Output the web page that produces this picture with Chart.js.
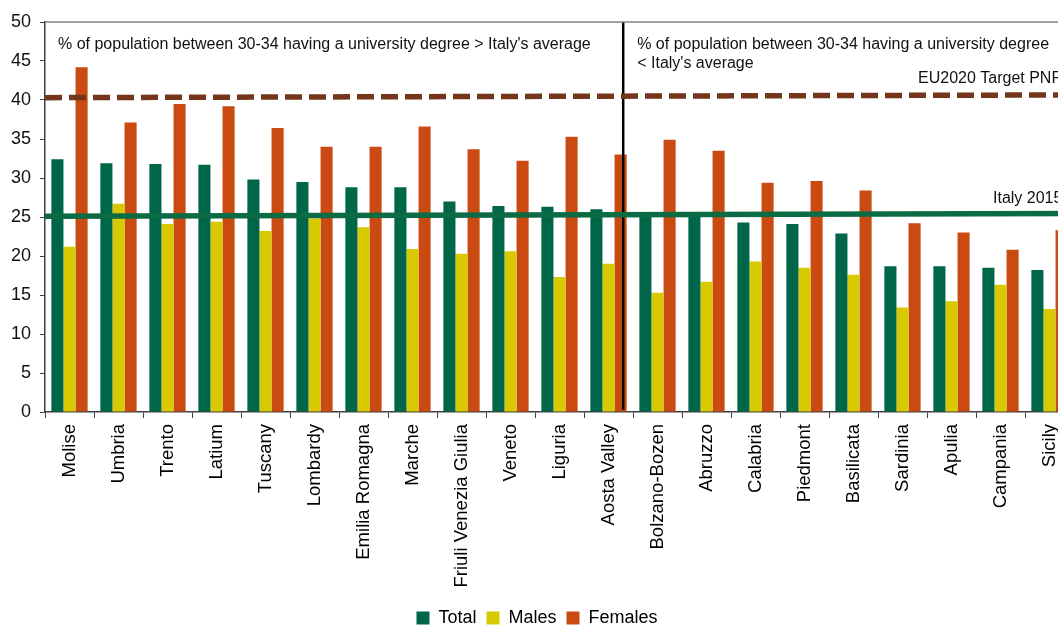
<!DOCTYPE html>
<html>
<head>
<meta charset="utf-8">
<script src="https://cdn.jsdelivr.net/npm/chart.js@4/dist/chart.umd.min.js"></script>
<style>
  html, body { margin: 0; padding: 0; overflow: hidden; background: #fff; }
  #wrap { position: relative; width: 1080px; height: 628px; }
</style>
</head>
<body>
<div id="wrap"><canvas id="c"></canvas></div>
<script>
// Share of population aged 30-34 with a university degree, by region (%)
const regions = ['Molise', 'Umbria', 'Trento', 'Latium', 'Tuscany', 'Lombardy', 'Emilia Romagna',
  'Marche', 'Friuli Venezia Giulia', 'Veneto', 'Liguria', 'Aosta Valley', 'Bolzano-Bozen',
  'Abruzzo', 'Calabria', 'Piedmont', 'Basilicata', 'Sardinia', 'Apulia', 'Campania', 'Sicily'];
const totalPct   = [32.4, 31.9, 31.8, 31.7, 29.8, 29.5, 28.8, 28.8, 27.0, 26.4, 26.3, 26.0, 25.2, 25.1, 24.3, 24.1, 22.9, 18.7, 18.7, 18.5, 18.2];
const malesPct   = [21.2, 26.7, 24.1, 24.4, 23.2, 24.8, 23.7, 20.9, 20.3, 20.6, 17.3, 19.0, 15.3, 16.7, 19.3, 18.5, 17.6, 13.4, 14.2, 16.3, 13.2];
const femalesPct = [44.2, 37.1, 39.5, 39.2, 36.4, 34.0, 34.0, 36.6, 33.7, 32.2, 35.3, 33.0, 34.9, 33.5, 29.4, 29.6, 28.4, 24.2, 23.0, 20.8, 23.3];
const yTicks = [0, 5, 10, 15, 20, 25, 30, 35, 40, 45, 50];

// Reference lines (value at the left edge, value at the right edge)
const euTarget  = [40.3, 40.65];
const italy2015 = [25.1, 25.45];
// Divider between the above-average and below-average groups, in region-index units
const dividerAt = 11.3;

const noteAbove = "% of population between 30-34 having a university degree > Italy's average";
const noteBelow = ["% of population between 30-34 having a university degree", "< Italy's average"];
const euLabel = 'EU2020 Target PNR';
const italyLabel = 'Italy 2015';

const FONT = '"Liberation Sans", Arial, Helvetica, sans-serif';
Chart.defaults.font.family = FONT;
Chart.defaults.color = '#000';

const GREEN = '#00664A', YELLOW = '#D8C900', ORANGE = '#C94B11';
const xMin = -0.5, xMax = regions.length - 0.5;
const byRegion = vals => vals.map((v, i) => ({ x: i, y: v }));

const notes = {
  id: 'notes',
  afterDatasetsDraw(chart) {
    const { ctx, chartArea: a, scales: { x, y } } = chart;
    ctx.save();
    // frame top
    ctx.strokeStyle = '#808080';
    ctx.lineWidth = 1.5;
    ctx.beginPath();
    ctx.moveTo(a.left, a.top);
    ctx.lineTo(a.right, a.top);
    ctx.stroke();
    // annotations
    ctx.font = '16px ' + FONT;
    ctx.fillStyle = '#111';
    ctx.textBaseline = 'alphabetic';
    ctx.textAlign = 'left';
    ctx.fillText(noteAbove, a.left + 13, a.top + 27);
    const dx = x.getPixelForValue(dividerAt);
    ctx.fillText(noteBelow[0], dx + 14, a.top + 27);
    ctx.fillText(noteBelow[1], dx + 14, a.top + 46);
    ctx.fillText(euLabel, a.right - 156, y.getPixelForValue(euTarget[1]) - 12);
    ctx.fillText(italyLabel, a.right - 81, y.getPixelForValue(italy2015[1]) - 10);
    ctx.restore();
  }
};

const refLine = { type: 'line', order: 0, pointRadius: 0, fill: false };

new Chart(document.getElementById('c'), {
  type: 'bar',
  data: {
    datasets: [
      { label: 'Total',   data: byRegion(totalPct),   backgroundColor: GREEN,  order: 2 },
      { label: 'Males',   data: byRegion(malesPct),   backgroundColor: YELLOW, order: 2 },
      { label: 'Females', data: byRegion(femalesPct), backgroundColor: ORANGE, order: 2 },
      Object.assign({}, refLine, { label: 'EU2020 target',
        data: [{ x: xMin, y: euTarget[0] }, { x: xMax, y: euTarget[1] }],
        borderColor: '#74361A', borderWidth: 5.5, borderDash: [17, 7] }),
      Object.assign({}, refLine, { label: 'Italy 2015',
        data: [{ x: xMin, y: italy2015[0] }, { x: xMax, y: italy2015[1] }],
        borderColor: '#0B6B45', borderWidth: 5.5 }),
      Object.assign({}, refLine, { label: 'divider',
        data: [{ x: dividerAt, y: 0.3 }, { x: dividerAt, y: 50 }],
        borderColor: '#000', borderWidth: 2.5 })
    ]
  },
  options: {
    responsive: true,
    maintainAspectRatio: false,
    animation: false,
    datasets: { bar: { categoryPercentage: 0.74, barPercentage: 1.0 } },
    layout: { padding: { top: 22, right: 6, left: 0, bottom: -9 } },
    plugins: {
      tooltip: { enabled: false },
      legend: {
        position: 'bottom',
        labels: {
          filter: item => item.datasetIndex < 3,
          sort: (a, b) => a.datasetIndex - b.datasetIndex,
          boxWidth: 13, boxHeight: 13, padding: 10,
          font: { size: 18 }, color: '#000'
        }
      }
    },
    scales: {
      x: {
        type: 'linear',
        min: xMin, max: xMax,
        offset: false,
        afterBuildTicks: s => { s.ticks = regions.map((_, i) => ({ value: i })); },
        grid: { display: true, drawOnChartArea: false, drawTicks: true, tickLength: 6, color: '#404040', offset: true },
        border: { display: true, color: '#404040', width: 1.5 },
        ticks: { autoSkip: false, maxRotation: 90, minRotation: 90, padding: 6, font: { size: 18.5 }, color: '#000',
                 callback: (v) => regions[v] },
        afterFit: s => { s.height = 187; }
      },
      y: {
        min: 0, max: 50,
        afterBuildTicks: s => { s.ticks = yTicks.map(v => ({ value: v })); },
        grid: { drawOnChartArea: false, drawTicks: true, tickLength: 5, color: '#404040' },
        border: { display: true, color: '#404040', width: 1.5 },
        ticks: { padding: 9, font: { size: 18 }, color: '#111' },
        afterFit: s => { s.width = 45; }
      }
    }
  },
  plugins: [notes]
});
</script>
</body>
</html>
